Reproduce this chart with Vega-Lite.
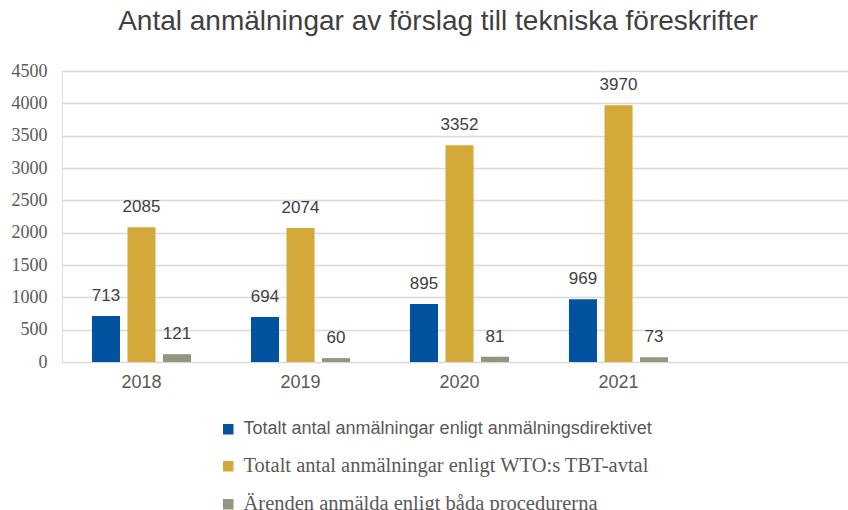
{
  "$schema": "https://vega.github.io/schema/vega-lite/v6.json",
  "width": 786,
  "height": 291,
  "autosize": {"type": "none"},
  "padding": {"left": 62, "top": 71, "right": 0, "bottom": 148},
  "background": "white",
  "title": {
    "text": "Antal anmälningar av förslag till tekniska föreskrifter",
    "font": "Liberation Sans",
    "fontSize": 28,
    "fontWeight": "normal",
    "color": "#404040",
    "anchor": "middle",
    "dx": -17,
    "offset": 26
  },
  "data": {
    "values": [
      {"year": "2018", "series": "Totalt antal anmälningar enligt anmälningsdirektivet", "value": 713},
      {"year": "2018", "series": "Totalt antal anmälningar enligt WTO:s TBT-avtal", "value": 2085},
      {"year": "2018", "series": "Ärenden anmälda enligt båda procedurerna", "value": 121},
      {"year": "2019", "series": "Totalt antal anmälningar enligt anmälningsdirektivet", "value": 694},
      {"year": "2019", "series": "Totalt antal anmälningar enligt WTO:s TBT-avtal", "value": 2074},
      {"year": "2019", "series": "Ärenden anmälda enligt båda procedurerna", "value": 60},
      {"year": "2020", "series": "Totalt antal anmälningar enligt anmälningsdirektivet", "value": 895},
      {"year": "2020", "series": "Totalt antal anmälningar enligt WTO:s TBT-avtal", "value": 3352},
      {"year": "2020", "series": "Ärenden anmälda enligt båda procedurerna", "value": 81},
      {"year": "2021", "series": "Totalt antal anmälningar enligt anmälningsdirektivet", "value": 969},
      {"year": "2021", "series": "Totalt antal anmälningar enligt WTO:s TBT-avtal", "value": 3970},
      {"year": "2021", "series": "Ärenden anmälda enligt båda procedurerna", "value": 73}
    ]
  },
  "encoding": {
    "x": {
      "field": "year",
      "type": "nominal",
      "scale": {"domain": ["2018", "2019", "2020", "2021", " "], "range": [0, 795], "paddingInner": 0.33, "paddingOuter": 0.165},
      "axis": {
        "title": null,
        "labelAngle": 0,
        "labelFont": "Liberation Sans",
        "labelFontSize": 18,
        "labelColor": "#595959",
        "labelPadding": 11,
        "domain": false,
        "ticks": false,
        "grid": false
      }
    },
    "xOffset": {
      "field": "series",
      "type": "nominal",
      "scale": {"paddingInner": 0.21, "paddingOuter": 0.105},
      "sort": null
    },
    "y": {
      "field": "value",
      "type": "quantitative",
      "scale": {"domain": [0, 4500], "nice": false},
      "axis": {
        "title": null,
        "values": [0, 500, 1000, 1500, 2000, 2500, 3000, 3500, 4000, 4500],
        "format": "d",
        "labelFont": "Liberation Serif",
        "labelFontSize": 18,
        "labelColor": "#595959",
        "labelPadding": 15,
        "domain": false,
        "ticks": false,
        "grid": true,
        "gridColor": "#D9D9D9",
        "gridWidth": 1.5
      }
    }
  },
  "layer": [
    {
      "mark": {"type": "bar"},
      "encoding": {
        "color": {
          "field": "series",
          "type": "nominal",
          "sort": null,
          "scale": {
            "domain": [
              "Totalt antal anmälningar enligt anmälningsdirektivet",
              "Totalt antal anmälningar enligt WTO:s TBT-avtal",
              "Ärenden anmälda enligt båda procedurerna"
            ],
            "range": ["#02529F", "#D3A939", "#94977F"]
          },
          "legend": {
            "title": null,
            "orient": "none",
            "direction": "vertical",
            "legendX": 156,
            "legendY": 348,
            "symbolType": "square",
            "symbolSize": 110,
            "symbolStrokeWidth": 0,
            "labelFont": "Liberation Serif",
            "labelFontSize": 20.5,
            "labelColor": "#595959",
            "labelLimit": 700,
            "rowPadding": 17,
            "labelOffset": 5,
            "encode": {
              "labels": {
                "update": {
                  "font": {"signal": "datum.index === 0 ? 'Liberation Sans' : 'Liberation Serif'"},
                  "fontSize": {"signal": "datum.index === 0 ? 18 : 20.5"}
                }
              }
            }
          }
        }
      }
    },
    {
      "mark": {"type": "text", "dy": -11, "baseline": "bottom", "font": "Liberation Sans", "fontSize": 17, "color": "#404040"},
      "encoding": {
        "text": {"field": "value", "type": "quantitative"}
      }
    }
  ]
}
